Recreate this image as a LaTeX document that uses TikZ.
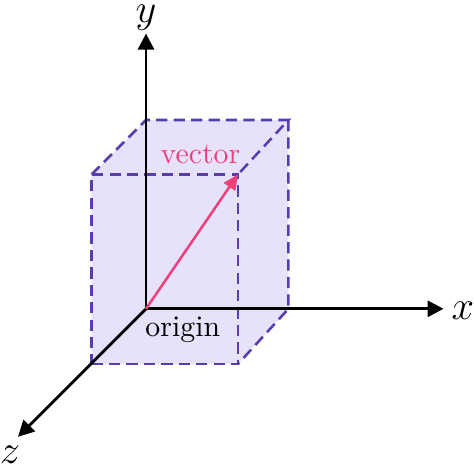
\documentclass[tikz,border=0pt]{standalone}
\usetikzlibrary{arrows.meta}
\definecolor{boxfill}{RGB}{230,226,252}
\definecolor{boxline}{RGB}{88,60,176}
\definecolor{vecpink}{RGB}{240,64,124}
\begin{document}
\begin{tikzpicture}[
            axis/.style={
                draw=black,
                line width=1pt,
                -{Triangle[length=0.2cm,width=0.2cm]}
            },
            edge/.style={
                draw=boxline,
                line width=0.9pt,
                dash pattern=on 4pt off 2.2pt
            },
            face/.style={
                fill=boxfill,
                draw=none
            },
            vec/.style={
                draw=vecpink,
                line width=0.9pt,
                -{Triangle[length=0.19cm,width=0.17cm]}
            },
            label/.style={
                inner sep=1pt,
                font=\fontsize{10.6}{13}\selectfont
            },
            axlabel/.style={
                inner sep=1pt,
                font=\Large
            }
        ]
        \useasboundingbox (-1.825,-1.99) rectangle (4.1,3.86);

        % Corners of the box (back face, then front face)
        \coordinate (o) at (0,0);
        \coordinate (b2) at (1.78,0);
        \coordinate (b3) at (1.78,2.36);
        \coordinate (b4) at (0,2.36);
        \coordinate (f1) at (-0.68,-0.69);
        \coordinate (f2) at (1.15,-0.69);
        \coordinate (f3) at (1.15,1.68);
        \coordinate (f4) at (-0.68,1.68);

        % Shaded box
        \path[face] (f1) -- (f2) -- (b2) -- (b3) -- (b4) -- (f4) -- cycle;
        \draw[edge] (f1) -- (f2) -- (f3) -- (f4) -- cycle;
        \draw[edge] (f4) -- (b4) -- (b3) -- (f3);
        \draw[edge] (b3) -- (b2) -- (f2);

        % Axes
        \coordinate (xend) at (3.72,0);
        \coordinate (yend) at (0,3.44);
        \coordinate (zend) at (-1.6,-1.6);
        \draw[axis] (o) -- (xend);
        \draw[axis] (o) -- (yend);
        \draw[axis] (o) -- (zend);

        % Axis labels
        \node[axlabel] (xlab) at (3.96,-0.03) {$x$};
        \node[axlabel] (ylab) at (0,3.64) {$y$};
        \node[axlabel] (zlab) at (-1.70,-1.82) {$z$};

        % Vector
        \draw[vec] (o) -- (f3);
        \node[label, text=vecpink] (veclab) at (0.68,1.93) {vector};
        \node[label] (orilab) at (0.46,-0.26) {origin};

        \end{tikzpicture}
\end{document}
